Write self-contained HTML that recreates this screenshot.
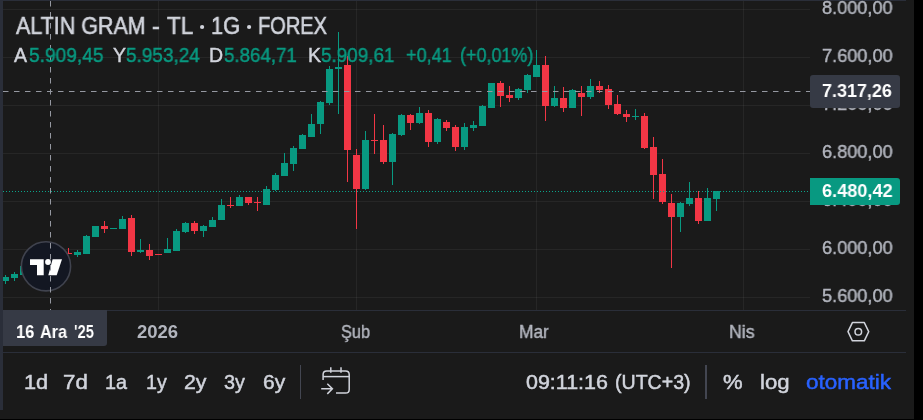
<!DOCTYPE html>
<html><head><meta charset="utf-8"><title>chart</title>
<style>
html,body{margin:0;padding:0;background:#000;}
body{width:923px;height:420px;overflow:hidden;position:relative;font-family:"Liberation Sans",sans-serif;}
#panel{position:absolute;left:0;top:0;width:914px;height:419px;background:#1a1a1a;}
#lb{position:absolute;left:0;top:0;width:3px;height:410px;background:#2a2e39;}
#tb{position:absolute;left:0;top:0;width:906px;height:1px;background:#2a2e39;}
.hl{position:absolute;left:3px;width:903px;height:1px;background:#2a2e39;}
.t{position:absolute;white-space:nowrap;line-height:1;color:#d1d4dc;transform-origin:0 0;}
.tt{-webkit-text-stroke:0.6px currentColor !important;}
.tb{-webkit-text-stroke:0.5px currentColor;}
.gs{will-change:transform;-webkit-text-stroke:0.45px currentColor;}
.ttl{font-size:22px;top:14px;}
.lg{font-size:18px;top:46px;}
.ax{font-size:18px;}
.tm{font-size:18px;top:323px;}
.bt{font-size:20px;top:371px;}
.box{position:absolute;border-radius:3px;}
svg{position:absolute;left:0;top:0;}
</style></head><body>
<div id="panel"></div>
<svg width="923" height="420" viewBox="0 0 923 420" shape-rendering="crispEdges">
<rect x="3" y="9" width="807" height="1" fill="rgba(255,255,255,0.053)"/>
<rect x="3" y="57" width="807" height="1" fill="rgba(255,255,255,0.053)"/>
<rect x="3" y="105" width="807" height="1" fill="rgba(255,255,255,0.053)"/>
<rect x="3" y="153" width="807" height="1" fill="rgba(255,255,255,0.053)"/>
<rect x="3" y="201" width="807" height="1" fill="rgba(255,255,255,0.053)"/>
<rect x="3" y="249" width="807" height="1" fill="rgba(255,255,255,0.053)"/>
<rect x="3" y="297" width="807" height="1" fill="rgba(255,255,255,0.053)"/>
<rect x="158" y="1" width="1" height="309" fill="rgba(255,255,255,0.053)"/>
<rect x="356" y="1" width="1" height="309" fill="rgba(255,255,255,0.053)"/>
<rect x="536" y="1" width="1" height="309" fill="rgba(255,255,255,0.053)"/>
<rect x="743" y="1" width="1" height="309" fill="rgba(255,255,255,0.053)"/>
<rect x="5" y="275" width="1" height="9" fill="#089981"/>
<rect x="2" y="277" width="7" height="4" fill="#089981"/>
<rect x="14" y="272" width="1" height="9" fill="#089981"/>
<rect x="11" y="274" width="7" height="4" fill="#089981"/>
<rect x="23" y="264" width="1" height="12" fill="#089981"/>
<rect x="20" y="266" width="7" height="9" fill="#089981"/>
<rect x="68" y="248" width="1" height="5" fill="#f23645"/>
<rect x="65" y="253" width="7" height="1" fill="#f23645"/>
<rect x="77" y="250" width="1" height="7" fill="#089981"/>
<rect x="74" y="252" width="7" height="3" fill="#089981"/>
<rect x="86" y="235" width="1" height="19" fill="#089981"/>
<rect x="83" y="236" width="7" height="18" fill="#089981"/>
<rect x="95" y="226" width="1" height="11" fill="#089981"/>
<rect x="92" y="226" width="7" height="11" fill="#089981"/>
<rect x="104" y="221" width="1" height="12" fill="#f23645"/>
<rect x="101" y="226" width="7" height="3" fill="#f23645"/>
<rect x="113" y="228" width="1" height="1" fill="#089981"/>
<rect x="110" y="228" width="7" height="1" fill="#089981"/>
<rect x="122" y="216" width="1" height="13" fill="#089981"/>
<rect x="119" y="219" width="7" height="10" fill="#089981"/>
<rect x="131" y="215" width="1" height="41" fill="#f23645"/>
<rect x="128" y="218" width="7" height="34" fill="#f23645"/>
<rect x="140" y="239" width="1" height="14" fill="#089981"/>
<rect x="137" y="250" width="7" height="2" fill="#089981"/>
<rect x="149" y="244" width="1" height="16" fill="#f23645"/>
<rect x="146" y="250" width="7" height="6" fill="#f23645"/>
<rect x="158" y="254" width="1" height="1" fill="#f23645"/>
<rect x="155" y="254" width="7" height="1" fill="#f23645"/>
<rect x="167" y="238" width="1" height="15" fill="#089981"/>
<rect x="164" y="249" width="7" height="4" fill="#089981"/>
<rect x="176" y="229" width="1" height="22" fill="#089981"/>
<rect x="173" y="231" width="7" height="20" fill="#089981"/>
<rect x="185" y="222" width="1" height="11" fill="#089981"/>
<rect x="182" y="223" width="7" height="9" fill="#089981"/>
<rect x="194" y="221" width="1" height="13" fill="#f23645"/>
<rect x="191" y="223" width="7" height="8" fill="#f23645"/>
<rect x="203" y="225" width="1" height="12" fill="#089981"/>
<rect x="200" y="226" width="7" height="5" fill="#089981"/>
<rect x="212" y="217" width="1" height="10" fill="#089981"/>
<rect x="209" y="220" width="7" height="7" fill="#089981"/>
<rect x="221" y="199" width="1" height="21" fill="#089981"/>
<rect x="218" y="205" width="7" height="15" fill="#089981"/>
<rect x="230" y="197" width="1" height="11" fill="#f23645"/>
<rect x="227" y="205" width="7" height="1" fill="#f23645"/>
<rect x="239" y="195" width="1" height="11" fill="#089981"/>
<rect x="236" y="197" width="7" height="9" fill="#089981"/>
<rect x="248" y="197" width="1" height="8" fill="#f23645"/>
<rect x="245" y="197" width="7" height="6" fill="#f23645"/>
<rect x="257" y="197" width="1" height="14" fill="#f23645"/>
<rect x="254" y="202" width="7" height="1" fill="#f23645"/>
<rect x="266" y="186" width="1" height="19" fill="#089981"/>
<rect x="263" y="189" width="7" height="16" fill="#089981"/>
<rect x="275" y="173" width="1" height="18" fill="#089981"/>
<rect x="272" y="175" width="7" height="15" fill="#089981"/>
<rect x="284" y="153" width="1" height="23" fill="#089981"/>
<rect x="281" y="163" width="7" height="13" fill="#089981"/>
<rect x="293" y="146" width="1" height="25" fill="#089981"/>
<rect x="290" y="148" width="7" height="16" fill="#089981"/>
<rect x="302" y="134" width="1" height="15" fill="#089981"/>
<rect x="299" y="135" width="7" height="14" fill="#089981"/>
<rect x="311" y="114" width="1" height="23" fill="#089981"/>
<rect x="308" y="124" width="7" height="13" fill="#089981"/>
<rect x="320" y="101" width="1" height="33" fill="#089981"/>
<rect x="317" y="102" width="7" height="22" fill="#089981"/>
<rect x="329" y="66" width="1" height="39" fill="#089981"/>
<rect x="326" y="69" width="7" height="34" fill="#089981"/>
<rect x="338" y="32" width="1" height="82" fill="#089981"/>
<rect x="335" y="67" width="7" height="2" fill="#089981"/>
<rect x="347" y="56" width="1" height="126" fill="#f23645"/>
<rect x="344" y="65" width="7" height="85" fill="#f23645"/>
<rect x="356" y="149" width="1" height="80" fill="#f23645"/>
<rect x="353" y="155" width="7" height="34" fill="#f23645"/>
<rect x="365" y="131" width="1" height="59" fill="#089981"/>
<rect x="362" y="140" width="7" height="49" fill="#089981"/>
<rect x="374" y="114" width="1" height="40" fill="#f23645"/>
<rect x="371" y="140" width="7" height="1" fill="#f23645"/>
<rect x="383" y="125" width="1" height="39" fill="#f23645"/>
<rect x="380" y="140" width="7" height="22" fill="#f23645"/>
<rect x="392" y="133" width="1" height="52" fill="#089981"/>
<rect x="389" y="134" width="7" height="28" fill="#089981"/>
<rect x="401" y="114" width="1" height="22" fill="#089981"/>
<rect x="398" y="115" width="7" height="20" fill="#089981"/>
<rect x="410" y="114" width="1" height="16" fill="#f23645"/>
<rect x="407" y="115" width="7" height="8" fill="#f23645"/>
<rect x="419" y="107" width="1" height="17" fill="#089981"/>
<rect x="416" y="113" width="7" height="10" fill="#089981"/>
<rect x="428" y="110" width="1" height="37" fill="#f23645"/>
<rect x="425" y="113" width="7" height="29" fill="#f23645"/>
<rect x="437" y="118" width="1" height="26" fill="#089981"/>
<rect x="434" y="119" width="7" height="23" fill="#089981"/>
<rect x="446" y="120" width="1" height="11" fill="#f23645"/>
<rect x="443" y="122" width="7" height="6" fill="#f23645"/>
<rect x="455" y="125" width="1" height="26" fill="#f23645"/>
<rect x="452" y="127" width="7" height="20" fill="#f23645"/>
<rect x="464" y="123" width="1" height="27" fill="#089981"/>
<rect x="461" y="127" width="7" height="20" fill="#089981"/>
<rect x="473" y="121" width="1" height="10" fill="#089981"/>
<rect x="470" y="125" width="7" height="3" fill="#089981"/>
<rect x="482" y="105" width="1" height="21" fill="#089981"/>
<rect x="479" y="106" width="7" height="20" fill="#089981"/>
<rect x="491" y="83" width="1" height="25" fill="#089981"/>
<rect x="488" y="83" width="7" height="25" fill="#089981"/>
<rect x="500" y="81" width="1" height="26" fill="#f23645"/>
<rect x="497" y="83" width="7" height="13" fill="#f23645"/>
<rect x="509" y="86" width="1" height="16" fill="#f23645"/>
<rect x="506" y="95" width="7" height="3" fill="#f23645"/>
<rect x="518" y="88" width="1" height="12" fill="#089981"/>
<rect x="515" y="89" width="7" height="9" fill="#089981"/>
<rect x="527" y="74" width="1" height="19" fill="#089981"/>
<rect x="524" y="75" width="7" height="15" fill="#089981"/>
<rect x="536" y="50" width="1" height="27" fill="#089981"/>
<rect x="533" y="65" width="7" height="12" fill="#089981"/>
<rect x="545" y="56" width="1" height="65" fill="#f23645"/>
<rect x="542" y="65" width="7" height="41" fill="#f23645"/>
<rect x="554" y="86" width="1" height="21" fill="#089981"/>
<rect x="551" y="98" width="7" height="8" fill="#089981"/>
<rect x="563" y="87" width="1" height="25" fill="#f23645"/>
<rect x="560" y="98" width="7" height="10" fill="#f23645"/>
<rect x="572" y="89" width="1" height="19" fill="#089981"/>
<rect x="569" y="90" width="7" height="18" fill="#089981"/>
<rect x="581" y="86" width="1" height="30" fill="#f23645"/>
<rect x="578" y="93" width="7" height="4" fill="#f23645"/>
<rect x="590" y="79" width="1" height="20" fill="#089981"/>
<rect x="587" y="86" width="7" height="11" fill="#089981"/>
<rect x="599" y="81" width="1" height="12" fill="#f23645"/>
<rect x="596" y="86" width="7" height="4" fill="#f23645"/>
<rect x="608" y="85" width="1" height="24" fill="#f23645"/>
<rect x="605" y="89" width="7" height="16" fill="#f23645"/>
<rect x="617" y="95" width="1" height="20" fill="#f23645"/>
<rect x="614" y="104" width="7" height="10" fill="#f23645"/>
<rect x="626" y="110" width="1" height="12" fill="#f23645"/>
<rect x="623" y="114" width="7" height="3" fill="#f23645"/>
<rect x="635" y="109" width="1" height="11" fill="#089981"/>
<rect x="632" y="116" width="7" height="1" fill="#089981"/>
<rect x="644" y="113" width="1" height="36" fill="#f23645"/>
<rect x="641" y="116" width="7" height="32" fill="#f23645"/>
<rect x="653" y="137" width="1" height="62" fill="#f23645"/>
<rect x="650" y="147" width="7" height="28" fill="#f23645"/>
<rect x="662" y="159" width="1" height="45" fill="#f23645"/>
<rect x="659" y="174" width="7" height="28" fill="#f23645"/>
<rect x="671" y="194" width="1" height="74" fill="#f23645"/>
<rect x="668" y="203" width="7" height="14" fill="#f23645"/>
<rect x="680" y="202" width="1" height="30" fill="#089981"/>
<rect x="677" y="203" width="7" height="14" fill="#089981"/>
<rect x="689" y="182" width="1" height="24" fill="#089981"/>
<rect x="686" y="198" width="7" height="6" fill="#089981"/>
<rect x="698" y="191" width="1" height="33" fill="#f23645"/>
<rect x="695" y="198" width="7" height="23" fill="#f23645"/>
<rect x="707" y="188" width="1" height="33" fill="#089981"/>
<rect x="704" y="198" width="7" height="23" fill="#089981"/>
<rect x="716" y="191" width="1" height="20" fill="#089981"/>
<rect x="713" y="191" width="7" height="8" fill="#089981"/>
<line x1="3" y1="191.5" x2="809" y2="191.5" stroke="#0aa58b" stroke-width="1" stroke-dasharray="1 2"/>
<line x1="3" y1="91.5" x2="810" y2="91.5" stroke="#9598a1" stroke-width="1" stroke-dasharray="5.5 5.5" shape-rendering="geometricPrecision"/>
</svg>
<!-- logo -->
<svg width="923" height="420" viewBox="0 0 923 420">
<circle cx="46" cy="266.3" r="24.6" fill="#131722" stroke="#40434e" stroke-width="1.6"/>
<path d="M30 259.2H43.7V275.3H37V265H30Z" fill="#fff"/>
<circle cx="48" cy="262" r="2.9" fill="#fff"/>
<path d="M52.6 259.2H62L56.7 275.3H48.3Z" fill="#fff"/>
</svg>
<svg width="923" height="420" viewBox="0 0 923 420" shape-rendering="crispEdges">
<line x1="50.5" y1="1" x2="50.5" y2="310" stroke="#9598a1" stroke-width="1" stroke-dasharray="5.5 5.5" shape-rendering="geometricPrecision"/>
</svg>
<div id="lb"></div><div id="tb"></div>
<svg width="923" height="420" viewBox="0 0 923 420"><circle cx="202.1" cy="27" r="2.1" fill="#d1d4dc"/><circle cx="249.1" cy="27" r="2.1" fill="#d1d4dc"/></svg>
<div class="hl" style="top:310px"></div>
<div class="hl" style="top:352px"></div>

<div class="t gs tt" style="left:16.0px;top:15.0px;font-size:23.5px;transform:scaleX(0.913);color:#d1d4dc">ALTIN GRAM</div>
<div class="t gs tt" style="left:152.2px;top:15.0px;font-size:23.5px;color:#d1d4dc">-</div>
<div class="t gs tt" style="left:167.31px;top:15.0px;font-size:23.5px;transform:scaleX(0.9582);color:#d1d4dc">TL</div>
<div class="t gs tt" style="left:211.45px;top:15.0px;font-size:23.5px;transform:scaleX(0.9314);color:#d1d4dc">1G</div>
<div class="t gs tt" style="left:258.3px;top:15.0px;font-size:23.5px;transform:scaleX(0.8522);color:#d1d4dc">FOREX</div>
<div class="t gs" style="left:14.4px;top:46.0px;font-size:19.5px;color:#d1d4dc">A</div>
<div class="t gs" style="left:112.54px;top:46.0px;font-size:19.5px;color:#d1d4dc">Y</div>
<div class="t gs" style="left:208.79px;top:46.0px;font-size:19.5px;color:#d1d4dc">D</div>
<div class="t gs" style="left:307.62px;top:46.0px;font-size:19.5px;color:#d1d4dc">K</div>
<div class="t gs" style="left:28.61px;top:46.0px;font-size:19.5px;transform:scaleX(0.9819);color:#089981">5.909,45</div>
<div class="t gs" style="left:125.51px;top:46.0px;font-size:19.5px;transform:scaleX(0.973);color:#089981">5.953,24</div>
<div class="t gs" style="left:224.23px;top:46.0px;font-size:19.5px;transform:scaleX(0.9598);color:#089981">5.864,71</div>
<div class="t gs" style="left:321.22px;top:46.0px;font-size:19.5px;transform:scaleX(0.9679);color:#089981">5.909,61</div>
<div class="t gs" style="left:406.26px;top:46.0px;font-size:19.5px;transform:scaleX(0.926);color:#089981">+0,41</div>
<div class="t gs" style="left:460.22px;top:46.0px;font-size:19.5px;transform:scaleX(0.9199);color:#089981">(+0,01%)</div>
<div class="t gs" style="left:821.92px;top:-1.0px;font-size:18.5px;transform:scaleX(0.9795);color:#b2b5be">8.000,00</div>
<div class="t gs" style="left:821.82px;top:47.0px;font-size:18.5px;transform:scaleX(0.981);color:#b2b5be">7.600,00</div>
<div class="t gs" style="left:821.82px;top:95.0px;font-size:18.5px;transform:scaleX(0.981);color:#b2b5be">7.200,00</div>
<div class="t gs" style="left:821.82px;top:143.0px;font-size:18.5px;transform:scaleX(0.981);color:#b2b5be">6.800,00</div>
<div class="t gs" style="left:821.82px;top:191.0px;font-size:18.5px;transform:scaleX(0.981);color:#b2b5be">6.400,00</div>
<div class="t gs" style="left:821.82px;top:239.0px;font-size:18.5px;transform:scaleX(0.981);color:#b2b5be">6.000,00</div>
<div class="t gs" style="left:821.85px;top:287.0px;font-size:18.5px;transform:scaleX(0.9806);color:#b2b5be">5.600,00</div>
<div class="box" style="left:810px;top:75px;width:90px;height:32.7px;background:#363a45"></div>
<div class="t gs" style="left:822.25px;top:82.0px;font-size:18.5px;font-weight:bold;-webkit-text-stroke:0;transform:scaleX(0.9699);color:#fff">7.317,26</div>
<div class="box" style="left:810px;top:178px;width:90px;height:26.7px;background:#089981;border-radius:0 3px 3px 0"></div>
<div class="t gs" style="left:821.55px;top:182.0px;font-size:18.5px;font-weight:bold;-webkit-text-stroke:0;transform:scaleX(0.9806);color:#fff">6.480,42</div>
<!-- time axis -->
<div class="box" style="left:3px;top:310px;width:104px;height:36px;background:#363a45;border-radius:0 0 3px 0"></div>
<div class="t gs" style="left:15.98px;top:323.0px;font-size:18.5px;font-weight:bold;-webkit-text-stroke:0;transform:scaleX(0.8911);color:#fff">16</div>
<div class="t gs" style="left:39.54px;top:323.0px;font-size:18.5px;font-weight:bold;-webkit-text-stroke:0;transform:scaleX(0.8793);color:#fff">Ara</div>
<div class="t gs" style="left:74.2px;top:323.0px;font-size:18.5px;font-weight:bold;-webkit-text-stroke:0;transform:scaleX(0.7952);color:#fff">&#39;25</div>
<div class="t gs" style="left:137.28px;top:323.0px;font-size:18.5px;font-weight:bold;-webkit-text-stroke:0;transform:scaleX(0.9906);color:#b2b5be">2026</div>
<div class="t gs" style="left:341.11px;top:323.0px;font-size:18.8px;transform:scaleX(0.8689);color:#b2b5be">Şub</div>
<div class="t gs" style="left:519.31px;top:323.0px;font-size:18.8px;transform:scaleX(0.9218);color:#b2b5be">Mar</div>
<div class="t gs" style="left:729.18px;top:323.0px;font-size:18.8px;transform:scaleX(0.944);color:#b2b5be">Nis</div>
<svg width="923" height="420" viewBox="0 0 923 420">
<path d="M848 331.7L852.4 322.6H864.3L868.7 331.7L864.3 340.8H852.4Z" fill="none" stroke="#d1d4dc" stroke-width="1.5" stroke-linejoin="round"/>
<circle cx="858.3" cy="331.7" r="3.3" fill="none" stroke="#d1d4dc" stroke-width="1.5"/>
<!-- toolbar separators -->
<rect x="300" y="365" width="1" height="34" fill="#434651"/>
<rect x="705" y="365" width="2" height="34" fill="#434651"/>
<!-- calendar icon -->
<g fill="none" stroke="#d1d4dc" stroke-width="1.5">
<path d="M323.1 380V374.5Q323.1 370.9 326.7 370.9H345.6Q349.2 370.9 349.2 374.5V389.5Q349.2 393.1 345.6 393.1H336"/>
<path d="M323.1 376.6H349.2"/>
<path d="M330.8 367.3V372.8M341 367.3V372.8"/>
<path d="M321.2 388.8H332.2M327.3 383.8L332.4 388.8L327.3 393.9"/>
</g>
</svg>

<div class="t tb" style="left:23.67px;top:372.0px;font-size:20.5px;transform:scaleX(1.0607);color:#d1d4dc">1d</div>
<div class="t tb" style="left:63.41px;top:372.0px;font-size:20.5px;transform:scaleX(1.0863);color:#d1d4dc">7d</div>
<div class="t tb" style="left:105.21px;top:372.0px;font-size:20.5px;transform:scaleX(0.9647);color:#d1d4dc">1a</div>
<div class="t tb" style="left:145.52px;top:372.0px;font-size:20.5px;transform:scaleX(0.9582);color:#d1d4dc">1y</div>
<div class="t tb" style="left:183.56px;top:372.0px;font-size:20.5px;transform:scaleX(1.0389);color:#d1d4dc">2y</div>
<div class="t tb" style="left:224.46px;top:372.0px;font-size:20.5px;transform:scaleX(0.9657);color:#d1d4dc">3y</div>
<div class="t tb" style="left:262.68px;top:372.0px;font-size:20.5px;transform:scaleX(1.0245);color:#d1d4dc">6y</div>
<div class="t tb" style="left:526.18px;top:372.0px;font-size:20.5px;transform:scaleX(1.0458);color:#d1d4dc">09:11:16</div>
<div class="t tb" style="left:614.9px;top:372.0px;font-size:20.5px;transform:scaleX(0.9551);color:#d1d4dc">(UTC+3)</div>
<div class="t tb" style="left:722.59px;top:372.0px;font-size:20.5px;transform:scaleX(1.0765);color:#d1d4dc">%</div>
<div class="t tb" style="left:760.07px;top:372.0px;font-size:20.5px;transform:scaleX(1.081);color:#d1d4dc">log</div>
<div class="t tb" style="left:805.8px;top:372.0px;font-size:20.5px;transform:scaleX(1.0963);color:#2962ff">otomatik</div>
</body></html>
